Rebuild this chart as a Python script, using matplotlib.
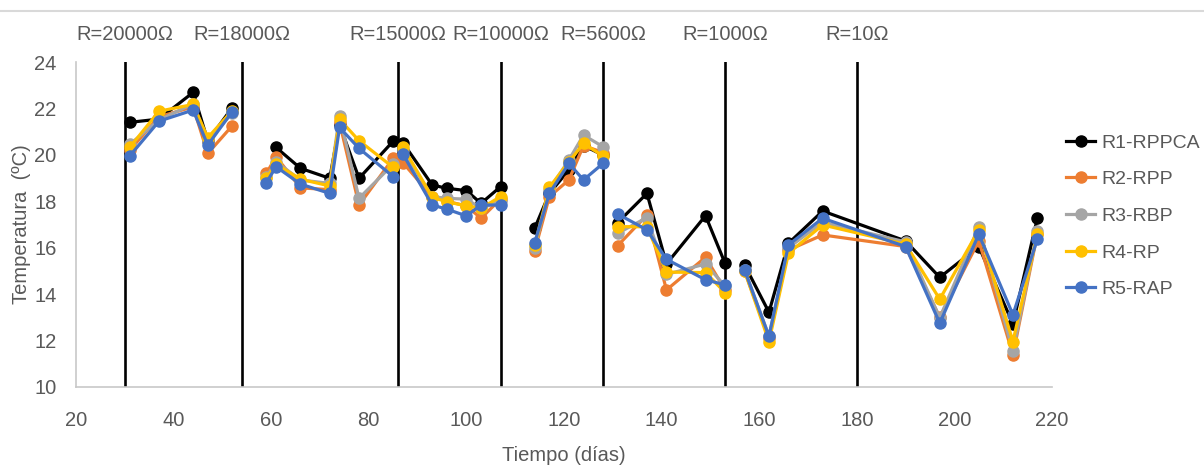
import numpy as np
import matplotlib
matplotlib.use("Agg")
import matplotlib.pyplot as plt
from matplotlib.lines import Line2D

plt.rcParams['font.family'] = ['Liberation Sans', 'DejaVu Sans']

# sampling days (the series break after each resistor change)
days = [31, 37, 44, 47, 52,
        59, 61, 66, 72, 74, 78, 85,
        87, 93, 96, 100, 103, 107,
        114, 117, 121, 124, 128,
        131, 137, 141, 149, 153,
        157, 162, 166, 173, 190, 197, 205, 212, 217]
break_after = [52, 85, 107, 128, 153]

nan = np.nan
r1 = [21.40, 21.54, 22.69, 20.60, 22.03,
      nan, 20.32, 19.42, 18.99, 21.30, 18.99, 20.59,
      20.52, 18.70, 18.56, 18.46, 17.91, 18.63,
      16.84, 18.34, 19.35, 20.40, 19.99,
      17.08, 18.34, 15.30, 17.38, 15.33,
      15.26, 13.22, 16.19, 17.58, 16.29, 14.72, 16.05, 12.72, 17.27]
r2 = [20.20, 21.64, 22.07, 20.06, 21.25,
      19.20, 19.92, 18.58, 18.50, 21.40, 17.84, 19.85,
      19.66, 18.20, 18.00, 17.80, 17.27, 18.10,
      15.88, 18.20, 18.92, 20.40, 20.10,
      16.09, 17.41, 14.18, 15.59, 14.18,
      15.00, 12.10, 15.90, 16.55, 16.05, 13.00, 16.30, 11.39, 16.60]
r3 = [20.45, 21.50, 22.20, 20.60, 21.80,
      19.05, 19.70, 18.92, 18.77, 21.68, 18.13, 19.60,
      20.20, 18.20, 18.13, 18.09, 17.70, 18.00,
      16.00, 18.50, 19.78, 20.85, 20.35,
      16.62, 17.30, 14.85, 15.30, 14.35,
      15.03, 12.20, 16.00, 17.10, 16.25, 12.98, 16.91, 11.53, 16.70]
r4 = [20.32, 21.88, 22.17, 20.74, 21.90,
      19.00, 19.60, 18.95, 18.66, 21.53, 20.61, 19.46,
      20.35, 18.17, 17.98, 17.80, 17.70, 18.20,
      16.10, 18.60, 19.70, 20.49, 19.95,
      16.91, 16.90, 14.95, 14.93, 14.07,
      15.00, 11.96, 15.76, 16.98, 16.15, 13.78, 16.77, 11.96, 16.60]
r5 = [19.95, 21.45, 21.93, 20.42, 21.86,
      18.80, 19.49, 18.74, 18.34, 21.18, 20.28, 19.06,
      20.03, 17.84, 17.66, 17.37, 17.84, 17.84,
      16.22, 18.34, 19.63, 18.92, 19.63,
      17.45, 16.77, 15.50, 14.62, 14.40,
      15.05, 12.18, 16.12, 17.27, 16.05, 12.75, 16.58, 13.11, 16.37]

names = ["R1-RPPCA", "R2-RPP", "R3-RBP", "R4-RP", "R5-RAP"]
colors = ["#000000", "#ED7D31", "#A5A5A5", "#FFC000", "#4472C4"]

change_days = [30, 54, 86, 107, 128, 153, 180]
change_labels = ["R=20000Ω", "R=18000Ω", "R=15000Ω", "R=10000Ω",
                 "R=5600Ω", "R=1000Ω", "R=10Ω"]


def with_breaks(x, y):
    xs, ys = [], []
    for d, v in zip(x, y):
        xs.append(d)
        ys.append(v)
        if d in break_after:
            xs.append(d + 0.5)
            ys.append(nan)
    return np.array(xs, float), np.array(ys, float)


fig = plt.figure(figsize=(12.04, 4.72), dpi=100)
ax = fig.add_axes([76 / 1204, 85 / 472, 976 / 1204, 325 / 472])

txt = "#595959"
fs = 14

for xv, lab in zip(change_days, change_labels):
    ax.axvline(xv, color="black", lw=1.9, zorder=1)
    ax.text(xv, 1 + 27 / 325, lab, transform=ax.get_xaxis_transform(),
            ha="center", va="center", fontsize=fs + 0.5, color=txt)

for vals, name, c in zip([r1, r2, r3, r4, r5], names, colors):
    xs, ys = with_breaks(days, vals)
    ax.plot(xs, ys, color=c, lw=2.3, marker="o", ms=8, label=name, zorder=3)

ax.set_xlim(20, 220)
ax.set_ylim(10, 24)
ax.set_xticks(range(20, 221, 20))
ax.set_yticks(range(10, 25, 2))
ax.tick_params(length=0, labelsize=fs + 0.5, labelcolor=txt)
ax.tick_params(axis="x", pad=17)
ax.tick_params(axis="y", pad=14)
for s in ["top", "right"]:
    ax.spines[s].set_visible(False)
for s in ["left", "bottom"]:
    ax.spines[s].set_color("#C8C8C8")
    ax.spines[s].set_linewidth(1.2)

ax.set_xlabel("Tiempo (días)", fontsize=fs + 0.5, color=txt, labelpad=12)
ax.set_ylabel("Temperatura  (ºC)", fontsize=fs + 0.5, color=txt, va="center")
ax.yaxis.set_label_coords((22 - 76) / 976, 0.5)

handles = [Line2D([0], [0], color=c, lw=2.3, marker="o", ms=8) for c in colors]
fig.legend(handles, names, loc="upper left",
           bbox_to_anchor=(1066 / 1204, 1 - 134 / 472),
           frameon=False, fontsize=fs, labelcolor=txt,
           handlelength=1.5, handletextpad=0.3, labelspacing=0.98,
           borderpad=0, borderaxespad=0)

# faint border line at the top of the picture
fig.add_artist(Line2D([0, 1], [1 - 11 / 472, 1 - 11 / 472],
                      transform=fig.transFigure, color="#D9D9D9", lw=1.5))

fig.savefig("out.png", dpi=100)
